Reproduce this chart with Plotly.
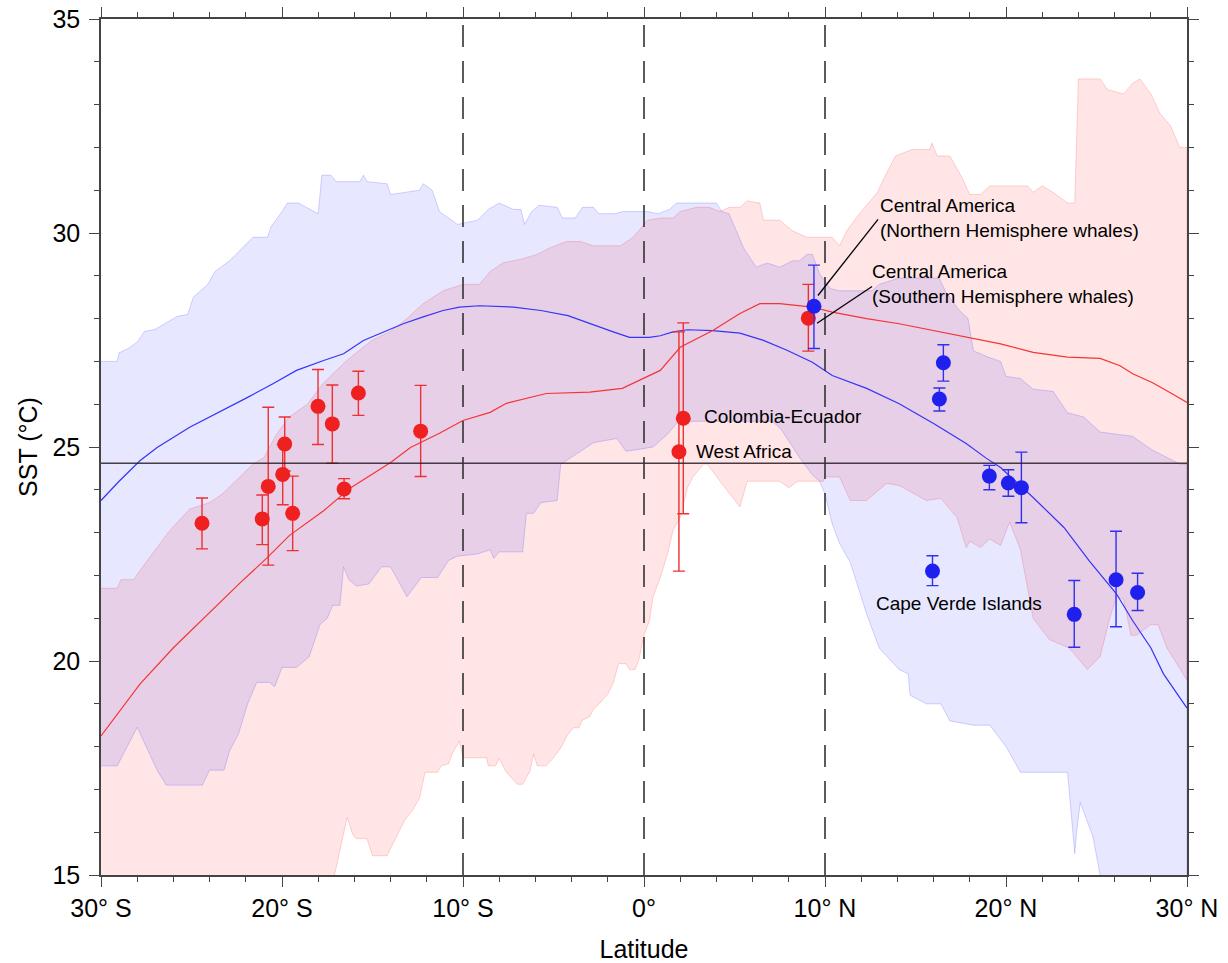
import plotly.graph_objects as go

# ---------------- data ----------------
# Blue band (Northern Hemisphere whales) upper / lower envelope
blue_hi_lat = [-30, -29.1, -29, -28.5, -28, -27.6, -27, -26.4, -25.8, -25.2, -24.9, -24.1, -23.7, -22.9,
               -22.2, -21.6, -20.8, -20.6, -20.0, -19.7, -19.1, -18.0, -17.8, -17.3, -17.0, -15.7, -15.5,
               -15.3, -14.2, -14.0, -12.4, -12.2, -11.7, -11.3, -10.3, -9.2, -8.6, -8.0, -7.2, -6.8, -6.6,
               -6.2, -5.8, -4.8, -4.5, -3.8, -3.4, -2.8, -2.5, -1.6, -1.2, 0.2, 0.8, 1.4, 1.8, 4.0, 4.3,
               4.7, 5.5, 6.2, 6.8, 7.5, 8.2, 8.6, 9.0, 9.3, 9.7, 10.3, 10.8, 12.6, 13.0, 14.1, 16.3, 16.7,
               17.4, 17.9, 18.2, 19.0, 19.7, 20.0, 20.8, 21.5, 22.6, 23.4, 24.3, 25.2, 27.0, 28.0, 29.6, 30]
blue_hi_sst = [27.0, 27.0, 27.2, 27.3, 27.45, 27.7, 27.75, 27.9, 28.05, 28.1, 28.5, 28.8, 29.1, 29.35,
               29.65, 29.9, 29.9, 30.15, 30.5, 30.7, 30.7, 30.45, 31.35, 31.35, 31.2, 31.2, 31.35,
               31.2, 31.15, 30.9, 31.0, 31.15, 31.0, 30.5, 30.2, 30.3, 30.55, 30.7, 30.55, 30.55, 30.2,
               30.5, 30.65, 30.6, 30.35, 30.35, 30.6, 30.6, 30.45, 30.45, 30.5, 30.5, 30.45, 30.55, 30.7, 30.7, 30.5,
               30.45, 29.65, 29.2, 29.3, 29.2, 29.35, 29.35, 29.5, 29.5, 29.05, 28.7, 28.65, 28.65, 28.8, 28.95, 28.95, 28.6,
               28.2, 28.0, 27.25, 27.1, 27.0, 26.65, 26.6, 26.35, 26.3, 25.8, 25.7, 25.35, 25.25, 24.95, 24.6, 24.6]

blue_lo_lat = [-30, -29.1, -28.0, -26.9, -26.4, -24.4, -24.0, -23.2, -22.9, -22.4, -21.9, -21.4, -20.7,
               -20.4, -20.0, -19.2, -18.5, -17.9, -17.5, -17.2, -16.8, -16.6, -16.3, -15.9, -15.2, -14.5,
               -14.0, -13.1, -12.3, -11.4, -10.8, -10.3, -9.2, -8.5, -8.3, -8.0, -6.7, -6.5, -6.1, -5.7,
               -4.8, -4.6, -3.5, -2.8, -1.5, -1.0, -0.2, 0.5, 1.3, 1.9, 7.1, 7.6, 8.2, 8.6, 9.3, 9.7, 10.0,
               10.4, 10.8, 11.4, 12.3, 13.0, 14.1, 14.6, 14.7, 15.6, 16.4, 16.9, 18.2, 19.1, 20.0, 20.8,
               23.4, 23.5, 23.7, 23.8, 23.9, 24.1, 24.8, 25.2, 25.5, 30]
blue_lo_sst = [17.55, 17.55, 18.45, 17.45, 17.1, 17.1, 17.45, 17.45, 17.9, 18.3, 19.0, 19.5, 19.5,
               19.4, 19.85, 19.85, 20.1, 20.85, 21.0, 21.3, 21.3, 22.2, 21.9, 21.75, 21.8, 22.2,
               22.2, 21.5, 21.95, 21.95, 22.35, 22.45, 22.5, 22.6, 22.4, 22.55, 22.55, 23.45, 23.45, 23.7,
               23.75, 24.6, 24.9, 25.1, 25.2, 24.9, 24.95, 25.0, 25.3, 25.6, 25.6, 25.4, 25.0, 24.75, 24.35, 24.2, 23.9,
               23.2, 22.75, 22.3, 21.1, 20.3, 19.8, 19.7, 19.2, 19.0, 19.0, 18.6, 18.5, 18.5, 18.0, 17.4,
               17.4, 16.8, 16.0, 15.5, 16.0, 16.7, 15.9, 15.0, 14.5, 14.5]

# Red band (Southern Hemisphere whales) upper / lower envelope
red_hi_lat = [-30, -29.1, -28.9, -28.2, -27.7, -26.9, -26.2, -25.1, -24.0, -23.3, -22.3, -21.6, -21.0,
              -20.3, -19.6, -18.6, -17.7, -16.6, -15.9, -15.0, -14.0, -13.1, -12.2, -11.1, -10.0, -9.1,
              -8.5, -7.8, -6.7, -5.9, -5.2, -4.3, -3.5, -2.8, -1.3, -0.6, 0.2, 0.9, 1.6, 2.0, 2.9, 3.6,
              4.2, 4.7, 5.3, 5.7, 6.4, 6.6, 7.5, 8.2, 9.0, 10.4, 10.8, 11.2, 12.0, 12.9, 13.4, 13.9, 14.8,
              15.8, 15.9, 16.2, 16.9, 17.5, 18.0, 18.6, 19.1, 21.2, 21.5, 22.0, 22.6, 23.4, 23.8, 24.0,
              25.2, 25.6, 26.5, 27.0, 27.4, 28.0, 28.5, 29.1, 29.6, 30]
red_hi_sst = [21.7, 21.7, 21.9, 21.9, 22.2, 22.65, 23.05, 23.55, 23.7, 23.9, 24.3, 24.6, 24.75,
              25.3, 25.7, 26.0, 26.5, 26.95, 27.2, 27.5, 27.7, 28.0, 28.35, 28.65, 28.8, 28.8,
              29.1, 29.3, 29.4, 29.5, 29.65, 29.8, 29.8, 29.7, 29.7, 29.9, 30.3, 30.35, 30.35, 30.5, 30.6, 30.6,
              30.5, 30.6, 30.6, 30.75, 30.7, 30.3, 30.3, 30.05, 29.9, 29.9, 29.7, 30.05, 30.5, 30.95, 31.4, 31.8, 31.95,
              31.95, 32.1, 31.8, 31.8, 31.35, 30.9, 30.9, 31.1, 31.1, 30.95, 31.1, 30.95, 30.7, 30.7, 33.6,
              33.6, 33.35, 33.25, 33.5, 33.6, 33.25, 32.8, 32.5, 32.0, 32.0]

red_lo_lat = [-30, -17.3, -17.1, -16.8, -16.4, -16.1, -15.9, -15.3, -15.0, -14.2, -13.6, -13.2, -12.8,
              -12.4, -12.1, -11.4, -11.2, -10.8, -10.6, -10.2, -10.0, -8.7, -8.6, -8.2, -8.0, -7.6, -7.0,
              -6.7, -6.3, -6.1, -5.9, -5.4, -5.0, -4.6, -4.2, -3.9, -3.6, -3.4, -3.0, -2.8, -2.4, -2.0,
              -1.7, -1.4, -1.0, -0.8, -0.5, -0.3, 0.0, 0.3, 0.5, 0.9, 1.3, 1.6, 2.0, 2.4, 2.7, 3.3, 3.5,
              4.2, 5.3, 5.7, 7.5, 8.0, 8.5, 9.9, 10.0, 10.8, 11.4, 12.3, 13.4, 14.1, 15.6, 16.4, 17.3,
              17.8, 18.0, 18.6, 19.1, 19.7, 20.2, 20.8, 21.5, 22.4, 23.5, 24.5, 25.2, 25.7, 26.1, 26.5,
              26.9, 27.2, 28.0, 28.4, 28.9, 30]
red_lo_sst = [14.5, 14.5, 15.0, 15.6, 16.35, 15.95, 15.85, 15.85, 15.45, 15.45, 15.95, 16.3, 16.5,
              16.8, 17.4, 17.4, 17.55, 17.6, 17.83, 18.13, 17.74, 17.74, 17.55, 17.55, 17.72, 17.4, 17.12,
              17.12, 17.43, 17.83, 17.55, 17.55, 17.74, 17.97, 18.29, 18.44, 18.44, 18.62, 18.7, 18.87, 19.03, 19.23,
              19.49, 19.94, 19.94, 19.8, 19.8, 20.0, 20.6, 20.94, 21.5, 21.95, 22.5, 23.05, 23.35, 24.05, 24.3, 24.6, 24.6,
              24.2, 23.6, 24.2, 24.2, 24.05, 24.2, 24.2, 24.3, 24.3, 23.75, 23.75, 24.15, 24.1, 23.75, 23.8, 23.35,
              22.65, 22.8, 22.65, 22.85, 22.7, 23.25, 22.6, 21.0, 20.5, 20.3, 19.8, 20.1, 20.95, 21.5, 21.45,
              20.6, 20.6, 20.85, 20.85, 20.3, 19.55]

# Mean SST lines
blue_mean_lat = [-30, -29, -27.85, -26.9, -25.1, -23.6, -21.9, -20.5, -19.2, -17.7, -16.6, -15.5, -14.4,
                 -13.3, -12.2, -11.1, -10.2, -9.1, -7.2, -5.7, -4.2, -3.0, -1.7, -0.8, 0.3, 0.9, 1.6, 2.4,
                 3.8, 5.3, 6.6, 7.9, 9.3, 10.4, 12.3, 14.1, 16.0, 17.8, 18.9, 19.7, 21.5, 23.2, 24.6, 26.1,
                 27.0, 28.0, 28.7, 30]
blue_mean_sst = [23.75, 24.2, 24.68, 24.99, 25.46, 25.78, 26.16, 26.48, 26.79, 27.02, 27.18, 27.49, 27.68,
                 27.88, 28.04, 28.19, 28.27, 28.3, 28.27, 28.19, 28.07, 27.88, 27.69, 27.56, 27.56, 27.6, 27.69, 27.74,
                 27.72, 27.66, 27.49, 27.26, 26.98, 26.67, 26.37, 26.01, 25.55, 25.08, 24.74, 24.52, 23.82, 23.12, 22.34, 21.57,
                 20.94, 20.31, 19.7, 18.9]

red_mean_lat = [-30, -29.1, -27.85, -26.0, -24.1, -22.3, -20.8, -19.6, -17.7, -16.2, -14.0, -12.9, -11.3,
                -10.0, -8.5, -7.6, -5.4, -3.0, -1.2, 0.1, 0.9, 2.0, 3.8, 5.3, 6.4, 7.5, 9.3, 10.4, 12.3,
                14.1, 16.0, 17.8, 19.7, 21.5, 23.4, 25.2, 26.3, 27.0, 28.1, 29.2, 30]
red_mean_sst = [18.25, 18.76, 19.46, 20.31, 21.1, 21.83, 22.42, 22.93, 23.51, 24.05, 24.64, 24.99, 25.32,
                25.62, 25.81, 26.02, 26.25, 26.28, 26.37, 26.63, 26.79, 27.33, 27.72, 28.12, 28.35, 28.35, 28.27, 28.15, 28.0,
                27.88, 27.72, 27.57, 27.41, 27.21, 27.1, 27.07, 26.9, 26.71, 26.5, 26.24, 26.04]

# Breeding-ground observations (Southern Hemisphere whales, red)
red_pt_lat = [-24.42, -21.09, -20.76, -19.96, -19.85, -19.41, -18.01, -17.22, -15.78, -16.57, -12.34, 2.17, 1.93, 9.08]
red_pt_sst = [23.22, 23.32, 24.08, 24.36, 25.07, 23.45, 25.95, 25.54, 26.26, 24.02, 25.37, 25.67, 24.89, 28.01]
red_pt_plus = [0.59, 0.56, 1.85, 0.70, 0.63, 0.87, 0.86, 0.91, 0.51, 0.24, 1.07, 2.23, 2.80, 0.79]
red_pt_minus = [0.60, 0.60, 1.84, 0.71, 0.63, 0.87, 0.89, 0.92, 0.52, 0.23, 1.06, 2.23, 2.79, 0.77]

# Breeding-ground observations (Northern Hemisphere whales, blue)
blue_pt_lat = [9.39, 16.54, 16.32, 19.08, 20.13, 20.85, 15.94, 23.77, 26.08, 27.27]
blue_pt_sst = [28.29, 26.97, 26.12, 24.32, 24.16, 24.05, 22.10, 21.09, 21.90, 21.60]
blue_pt_plus = [0.96, 0.42, 0.26, 0.25, 0.31, 0.83, 0.36, 0.79, 1.13, 0.45]
blue_pt_minus = [0.99, 0.43, 0.28, 0.32, 0.31, 0.82, 0.34, 0.77, 1.10, 0.42]

reference_sst = 24.62
region_lats = [-10, 0, 10]

x_tickvals = [-30, -20, -10, 0, 10, 20, 30]
x_ticktext = ["30° S", "20° S", "10° S", "0°", "10° N", "20° N", "30° N"]
y_tickvals = [15, 20, 25, 30, 35]

# ---------------- figure ----------------
FONT = "Liberation Sans, Arial, sans-serif"
fig = go.Figure()

# bands (polygon: upper then reversed lower)
fig.add_trace(go.Scatter(
    x=red_hi_lat + red_lo_lat[::-1], y=red_hi_sst + red_lo_sst[::-1],
    fill="toself", fillcolor="rgba(255,0,0,0.10)",
    line=dict(color="rgba(255,60,60,0.22)", width=1), hoverinfo="skip", showlegend=False))
fig.add_trace(go.Scatter(
    x=blue_hi_lat + blue_lo_lat[::-1], y=blue_hi_sst + blue_lo_sst[::-1],
    fill="toself", fillcolor="rgba(0,0,255,0.095)",
    line=dict(color="rgba(60,60,255,0.22)", width=1), hoverinfo="skip", showlegend=False))

# mean lines
fig.add_trace(go.Scatter(x=blue_mean_lat, y=blue_mean_sst, mode="lines",
                         line=dict(color="#3535F5", width=1.2), showlegend=False))
fig.add_trace(go.Scatter(x=red_mean_lat, y=red_mean_sst, mode="lines",
                         line=dict(color="#F53535", width=1.2), showlegend=False))

# points
fig.add_trace(go.Scatter(
    x=red_pt_lat, y=red_pt_sst, mode="markers",
    marker=dict(color="#EE2020", size=15, line=dict(width=0)),
    error_y=dict(type="data", array=red_pt_plus, arrayminus=red_pt_minus,
                 color="#EE3030", thickness=1.4, width=6),
    showlegend=False))
fig.add_trace(go.Scatter(
    x=blue_pt_lat, y=blue_pt_sst, mode="markers",
    marker=dict(color="#2020EE", size=15, line=dict(width=0)),
    error_y=dict(type="data", array=blue_pt_plus, arrayminus=blue_pt_minus,
                 color="#3030EE", thickness=1.4, width=6),
    showlegend=False))

# reference lines
fig.add_hline(y=reference_sst, line=dict(color="rgba(40,30,40,0.85)", width=1.5), layer="above")
for lat in region_lats:
    fig.add_vline(x=lat, line=dict(color="#333333", width=1.6, dash="22px,14px"), layer="above")

# annotations
ann_font = dict(family=FONT, size=19, color="black")
fig.add_shape(type="line", x0=9.61, y0=28.54, x1=12.93, y1=30.32, line=dict(color="black", width=1.3))
fig.add_shape(type="line", x0=9.56, y0=27.89, x1=12.6, y1=28.75, line=dict(color="black", width=1.3))
fig.add_annotation(x=12.93, y=30.34, text="Central America<br>(Northern Hemisphere whales)",
                   showarrow=False, xanchor="left", yanchor="middle", align="left", font=ann_font)
fig.add_annotation(x=12.49, y=28.81, text="Central America<br>(Southern Hemisphere whales)",
                   showarrow=False, xanchor="left", yanchor="middle", align="left", font=ann_font)
fig.add_annotation(x=3.2, y=25.71, text="Colombia-Ecuador", showarrow=False,
                   xanchor="left", yanchor="middle", font=ann_font)
fig.add_annotation(x=2.76, y=24.9, text="West Africa", showarrow=False,
                   xanchor="left", yanchor="middle", font=ann_font)
fig.add_annotation(x=12.7, y=21.34, text="Cape Verde Islands", showarrow=False,
                   xanchor="left", yanchor="middle", font=ann_font)

axis_common = dict(
    showline=True, linecolor="#444444", linewidth=1.5, mirror="ticks",
    ticks="outside", ticklen=10, tickwidth=1.3, tickcolor="#444444",
    showgrid=False, zeroline=False, automargin=False, ticklabeloverflow="allow",
    tickfont=dict(family=FONT, size=25, color="black"),
)
fig.update_xaxes(range=[-30, 30], tickvals=x_tickvals, ticktext=x_ticktext,
                 minor=dict(dtick=2, ticks="outside", ticklen=5, tickcolor="#444444", tickwidth=1.2),
                 title=dict(text="Latitude", font=dict(family=FONT, size=25, color="black"), standoff=26),
                 **axis_common)
fig.update_yaxes(range=[15, 35], tickvals=y_tickvals,
                 minor=dict(dtick=1, ticks="outside", ticklen=5, tickcolor="#444444", tickwidth=1.2),
                 title=dict(text="SST (°C)", font=dict(family=FONT, size=25, color="black"), standoff=8),
                 ticklabelstandoff=4,
                 **axis_common)

fig.update_layout(width=1228, height=963, margin=dict(l=101, r=41, t=19, b=88),
                  plot_bgcolor="white", paper_bgcolor="white", showlegend=False)

# remove the default 8 px page margin so the figure fills the window exactly
fig.write_html("out.html", config={"displayModeBar": False},
               post_script="document.body.style.margin='0';document.body.style.overflow='hidden';")
